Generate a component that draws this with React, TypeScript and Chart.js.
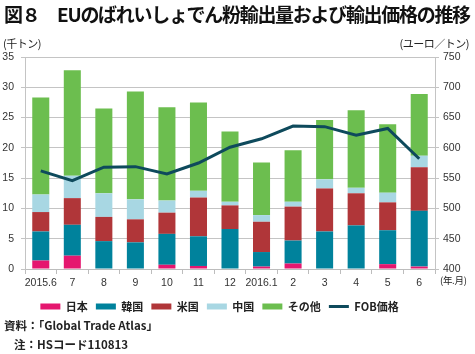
import React, { useEffect, useRef } from "react";
import { Chart, registerables } from "chart.js";

Chart.register(...registerables);

const categories = ["2015.6", "7", "8", "9", "10", "11", "12", "2016.1", "2", "3", "4", "5", "6"];
const japan = [1.4, 2.2, 0, 0, 0.7, 0.5, 0, 0.4, 0.9, 0, 0, 0.8, 0.4];
const korea = [4.8, 5.1, 4.6, 4.4, 5.1, 4.9, 6.6, 2.4, 3.8, 6.2, 7.2, 5.6, 9.2];
const usa = [3.2, 4.4, 4.0, 3.8, 3.5, 6.4, 3.9, 5.0, 5.6, 7.1, 5.3, 4.6, 7.2];
const china = [2.9, 3.7, 3.9, 3.3, 2.0, 1.1, 0.6, 1.1, 0.8, 1.5, 0.9, 1.6, 1.9];
const others = [16.0, 17.4, 14.0, 17.8, 15.4, 14.6, 11.6, 8.7, 8.5, 9.8, 12.8, 11.3, 10.2];
const fobPrice = [562, 546, 568, 569, 557, 575, 601, 615, 636, 635, 621, 632, 582];

const seriesNames = ["日本", "韓国", "米国", "中国", "その他", "FOB価格"];
const colors = ["#e5176f", "#00829c", "#b03639", "#a8d7e3", "#6cbe4f", "#0e4a5c"];

const numFont = "'Liberation Sans', Arial, sans-serif";
const jpFont = "'Noto Sans CJK JP', sans-serif";

export default function App() {
  const ref = useRef<HTMLCanvasElement>(null);
  useEffect(() => {
    document.body.style.margin = "0";
    const canvas = ref.current!;
    const barSets = [japan, korea, usa, china, others].map((d, i) => ({
      type: "bar" as const,
      label: seriesNames[i],
      data: d,
      backgroundColor: colors[i],
      borderWidth: 0,
      yAxisID: "y",
      stack: "s",
      order: 1,
      barPercentage: 0.54,
      categoryPercentage: 1,
      pointStyle: "rect",
    }));
    const legendShift = {
      id: "legendShift",
      afterLayout(chart: any) {
        if (chart.legend) {
          chart.legend.left -= 18;
          chart.legend.right -= 18;
        }
      },
    };
    const chart = new Chart(canvas, {
      type: "bar",
      data: {
        labels: categories,
        datasets: [
          ...barSets,
          {
            type: "line" as const,
            label: seriesNames[5],
            data: fobPrice,
            borderColor: colors[5],
            backgroundColor: colors[5],
            borderWidth: 3,
            pointRadius: 0,
            tension: 0,
            yAxisID: "y1",
            order: 0,
            pointStyle: "line",
          } as any,
        ],
      },
      options: {
        responsive: false,
        animation: false,
        devicePixelRatio: 1,
        layout: { padding: { top: 57, left: 0, right: 0, bottom: 32 } },
        plugins: {
          title: { display: false },
          tooltip: { enabled: false },
          legend: {
            position: "bottom",
            labels: {
              usePointStyle: true,
              pointStyleWidth: 20,
              boxHeight: 6,
              padding: 8,
              color: "#222",
              font: { family: jpFont, size: 11, weight: "bold" },
              sort: (a: any, b: any) => a.datasetIndex - b.datasetIndex,
            },
          },
        },
        scales: {
          x: {
            stacked: true,
            afterFit: (s: any) => { s.height = 24; },
            grid: { display: true, drawOnChartArea: false, offset: true, tickLength: 5, color: "#bdbdbd" },
            border: { color: "#bdbdbd" },
            ticks: { color: "#333", padding: 3, font: { family: numFont, size: 10.5 }, maxRotation: 0, autoSkip: false },
          },
          y: {
            stacked: true,
            min: 0,
            max: 35,
            afterFit: (s: any) => { s.width = 25; },
            grid: { color: "#c4c4c4", tickLength: 4 },
            border: { color: "#c4c4c4" },
            ticks: { stepSize: 5, color: "#333", padding: 7, font: { family: numFont, size: 10.5 } },
          },
          y1: {
            position: "right",
            min: 400,
            max: 750,
            afterFit: (s: any) => { s.width = 40; },
            grid: { drawOnChartArea: false, tickLength: 4, color: "#c4c4c4" },
            border: { color: "#c4c4c4" },
            ticks: { stepSize: 50, color: "#333", padding: 4, font: { family: numFont, size: 10.5 } },
          },
        },
      },
      plugins: [legendShift],
    } as any);
    return () => chart.destroy();
  }, []);

  const abs = (s: React.CSSProperties): React.CSSProperties => ({ position: "absolute", whiteSpace: "nowrap", color: "#222", fontFamily: jpFont, ...s });

  return (
    <div style={{ position: "relative", width: 475, height: 354, background: "#fff", overflow: "hidden" }}>
      <canvas ref={ref} width={475} height={354} style={{ position: "absolute", left: 0, top: 0 }} />
      <div style={abs({ left: 4, top: 3, fontSize: 19, lineHeight: "22px", fontWeight: "bold", letterSpacing: -1.3, color: "#111" })}>
        図８　EUのばれいしょでん粉輸出量および輸出価格の推移
      </div>
      <div style={abs({ left: 3, top: 36, fontSize: 11, lineHeight: "14px", letterSpacing: -0.5 })}>(千トン)</div>
      <div style={abs({ right: 6, top: 36, fontSize: 11, lineHeight: "14px", letterSpacing: -0.5 })}>(ユーロ／トン)</div>
      <div style={abs({ left: 440, top: 273, fontSize: 9.5, lineHeight: "14px", letterSpacing: -0.3 })}>(年.月)</div>
      <div style={abs({ left: 4, top: 317, fontSize: 11.5, lineHeight: "16px", fontWeight: "bold" })}>資料：「Global Trade Atlas」</div>
      <div style={abs({ left: 14, top: 336, fontSize: 11.5, lineHeight: "16px", fontWeight: "bold" })}>注：HSコード110813</div>
    </div>
  );
}
